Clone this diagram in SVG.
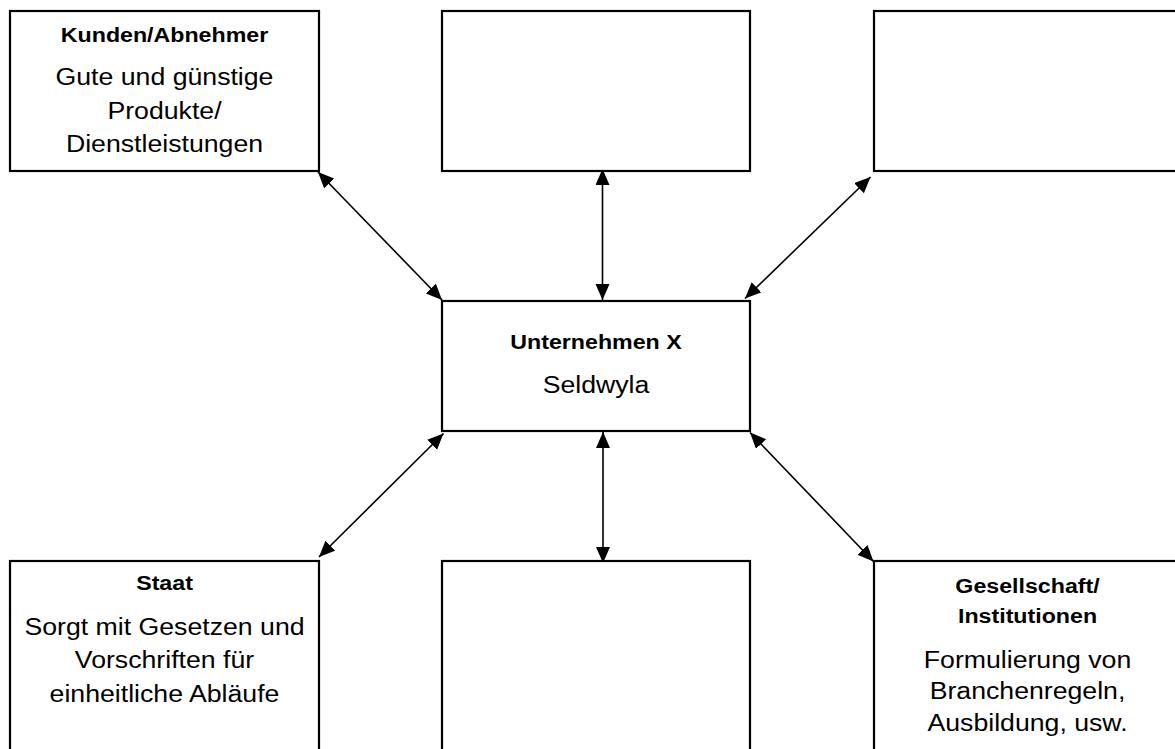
<svg xmlns="http://www.w3.org/2000/svg" width="1175" height="749" viewBox="0 0 1175 749">
<style>
  .box { fill: #fff; stroke: #000; stroke-width: 2.2; }
  .t { font-family: "Liberation Sans", Arial, sans-serif; font-size: 23px; fill: #000; text-anchor: middle; }
  .b { font-family: "Liberation Sans", Arial, sans-serif; font-size: 20px; font-weight: bold; fill: #000; text-anchor: middle; }
  .c { stroke: #000; stroke-width: 1.6; fill: none; marker-start: url(#ah); marker-end: url(#ah); }
</style>
<defs>
  <marker id="ah" markerUnits="userSpaceOnUse" markerWidth="18" markerHeight="16" refX="16" refY="7" orient="auto-start-reverse">
    <path d="M0,0 L16,7 L0,14 Z" fill="#000"/>
  </marker>
</defs>
<rect width="1175" height="749" fill="#fff"/>

<g id="connectors">
  <line class="c" x1="318" y1="172" x2="442" y2="300"/>
  <line class="c" x1="602.5" y1="169" x2="602.5" y2="300"/>
  <line class="c" x1="745" y1="298.5" x2="870.5" y2="177"/>
  <line class="c" x1="443.5" y1="433.5" x2="319" y2="557"/>
  <line class="c" x1="603" y1="432" x2="603" y2="563"/>
  <line class="c" x1="750" y1="432.5" x2="873.5" y2="561.5"/>
</g>

<g id="kunden">
  <rect class="box" x="10" y="11" width="309" height="160"/>
  <g transform="translate(164.5 0) scale(1.16 1)">
    <text class="b" x="0" y="42">Kunden/Abnehmer</text>
    <text class="t" x="0" y="85.5">Gute und günstige</text>
    <text class="t" x="0" y="119">Produkte/</text>
    <text class="t" x="0" y="152.5">Dienstleistungen</text>
  </g>
</g>

<g id="top-middle">
  <rect class="box" x="442" y="11" width="308" height="160"/>
</g>

<g id="top-right">
  <rect class="box" x="874" y="11" width="310" height="160"/>
</g>

<g id="unternehmen">
  <rect class="box" x="442" y="301" width="308" height="130"/>
  <g transform="translate(596 0) scale(1.16 1)">
    <text class="b" x="0" y="349.5">Unternehmen X</text>
    <text class="t" x="0" y="393.5">Seldwyla</text>
  </g>
</g>

<g id="staat">
  <rect class="box" x="10" y="561" width="309" height="200"/>
  <g transform="translate(164.5 0) scale(1.16 1)">
    <text class="b" x="0" y="590">Staat</text>
    <text class="t" x="0" y="635">Sorgt mit Gesetzen und</text>
    <text class="t" x="0" y="668.5">Vorschriften für</text>
    <text class="t" x="0" y="702">einheitliche Abläufe</text>
  </g>
</g>

<g id="bottom-middle">
  <rect class="box" x="442" y="561" width="308" height="200"/>
</g>

<g id="gesellschaft">
  <rect class="box" x="874" y="561" width="310" height="200"/>
  <g transform="translate(1027.5 0) scale(1.16 1)">
    <text class="b" x="0" y="593.5">Gesellschaft/</text>
    <text class="b" x="0" y="623">Institutionen</text>
    <text class="t" x="0" y="668">Formulierung von</text>
    <text class="t" x="0" y="699.5">Branchenregeln,</text>
    <text class="t" x="0" y="731">Ausbildung, usw.</text>
  </g>
</g>
</svg>
